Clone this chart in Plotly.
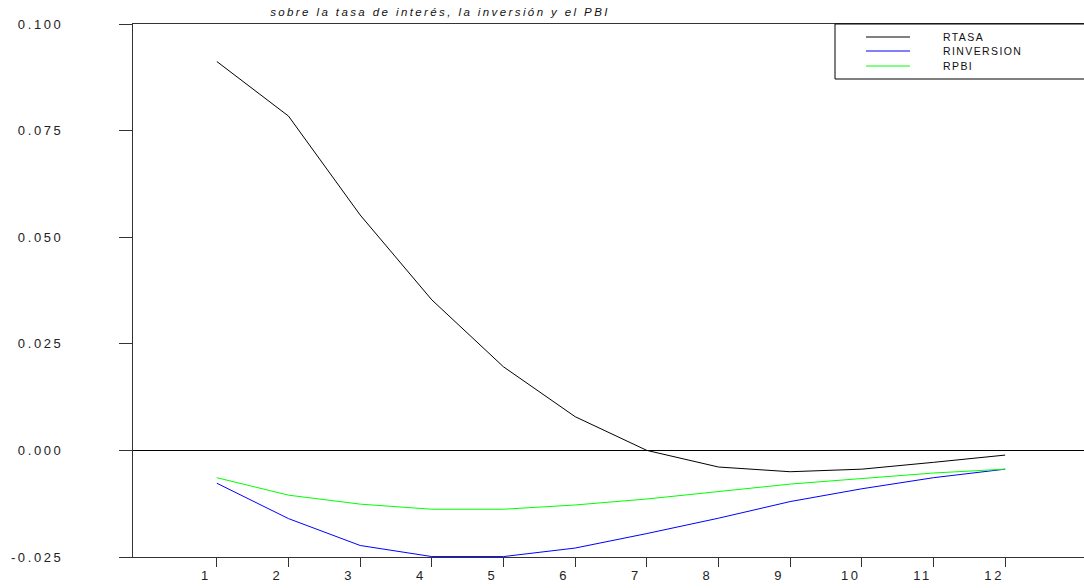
import plotly.graph_objects as go

periods = list(range(1, 13))
rtasa = [0.0912, 0.0784, 0.0552, 0.0353, 0.0196, 0.0079, 0.0000, -0.0039, -0.0050, -0.0044, -0.0028, -0.0011]
rinversion = [-0.0077, -0.0160, -0.0223, -0.0249, -0.0249, -0.0229, -0.0195, -0.0159, -0.0120, -0.0090, -0.0064, -0.0044]
rpbi = [-0.0064, -0.0105, -0.0126, -0.0138, -0.0138, -0.0128, -0.0114, -0.0096, -0.0079, -0.0066, -0.0053, -0.0044]
series_names = ["RTASA", "RINVERSION", "RPBI"]
series_colors = ["#000000", "#0000ff", "#00ff00"]
ytick_vals = [-0.025, 0.0, 0.025, 0.05, 0.075, 0.1]
title_text = "sobre la tasa de interés, la inversión y el PBI"

FONT = "Liberation Sans, Arial, sans-serif"

fig = go.Figure()
for name, vals, color in zip(series_names, [rtasa, rinversion, rpbi], series_colors):
    fig.add_trace(go.Scatter(x=periods, y=vals, mode="lines", name=name,
                             line=dict(color=color, width=1), showlegend=False))

# Legend box drawn in paper coordinates (plot area: x 133..1084, y 24..557 px)
W, H = 951.0, 533.0
def px_x(px):
    return (px - 133) / W
def px_y(py):
    return (557 - py) / H

fig.add_shape(type="rect", xref="paper", yref="paper",
              x0=px_x(835), x1=px_x(1095), y0=px_y(79), y1=1.0,
              line=dict(color="#000000", width=1), fillcolor="white", layer="above")
row_y = [37, 51, 66]
for name, color, ry in zip(series_names, series_colors, row_y):
    fig.add_shape(type="line", xref="paper", yref="paper",
                  x0=px_x(866), x1=px_x(910), y0=px_y(ry), y1=px_y(ry),
                  line=dict(color=color, width=1), layer="above")
    fig.add_annotation(xref="paper", yref="paper", x=px_x(941), y=px_y(ry),
                       xanchor="left", yanchor="middle", text=name, showarrow=False,
                       font=dict(family=FONT, size=10.5, color="#111111"))

fig.update_layout(
    width=1084, height=588,
    margin=dict(l=133, r=0, t=24, b=31),
    paper_bgcolor="white", plot_bgcolor="white",
    font=dict(family=FONT, size=13, color="#222222"),
    title=dict(text="<i>" + title_text + "</i>", x=440 / 1084, xanchor="center",
               y=1 - 12 / 588, yanchor="middle", font=dict(size=11.5, color="#111111")),
    showlegend=False,
)
fig.update_xaxes(range=[-0.17, 13.1], tickmode="array", tickvals=periods,
                 ticktext=[str(p) for p in periods],
                 ticks="outside", ticklen=9, tickcolor="#333333",
                 ticklabelshift=-11, ticklabelstandoff=-3,
                 showline=True, linecolor="#333333", linewidth=1, mirror=True,
                 showgrid=False, zeroline=False,
                 tickfont=dict(size=13, color="#222222"))
fig.update_yaxes(range=[-0.025, 0.1], tickmode="array", tickvals=ytick_vals,
                 ticktext=[f"{v:.3f}" for v in ytick_vals],
                 ticks="outside", ticklen=13, tickcolor="#333333",
                 ticklabelstandoff=53,
                 showline=True, linecolor="#333333", linewidth=1,
                 showgrid=False, zeroline=True, zerolinecolor="#000000", zerolinewidth=1,
                 tickfont=dict(size=13, color="#222222"))

post_js = """
document.body.style.margin = '0';
document.body.style.overflow = 'hidden';
var gd = document.getElementById('{plot_id}');
gd.querySelectorAll('.xtick text, .ytick text').forEach(function(t){ t.style.letterSpacing = '2.6px'; });
gd.querySelectorAll('.gtitle').forEach(function(t){ t.style.letterSpacing = '2.4px'; });
gd.querySelectorAll('.annotation-text').forEach(function(t){
  var w = t.getComputedTextLength();
  var x = parseFloat(t.getAttribute('x')) || 0;
  t.setAttribute('text-anchor', 'start');
  t.setAttribute('x', x - w / 2);
  t.style.letterSpacing = '1.4px';
});
"""

fig.write_html("out.html", post_script=post_js, config={"displayModeBar": False})
